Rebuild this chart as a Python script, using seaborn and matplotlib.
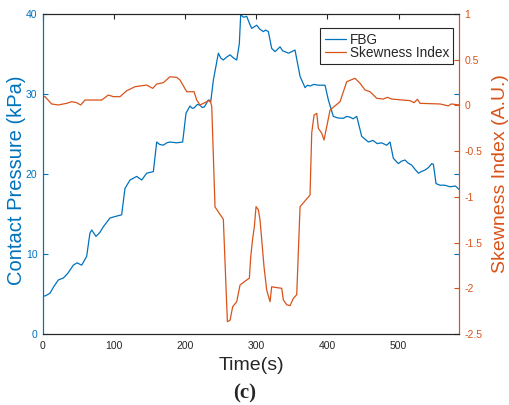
import pandas as pd
import seaborn as sns
import matplotlib.pyplot as plt

# FBG contact pressure (kPa) vs time (s)
t_fbg = [0, 4, 9.8, 15, 21.5, 28.6, 35, 42.6, 48, 54.4, 61.4, 66, 68.5, 74.5, 80, 84.8,
         94.2, 102, 110.6, 115.3, 122.4, 131.8, 138.8, 145.8, 155.2, 159.9, 164, 169.2,
         174, 178.6, 188, 196.4, 201.1, 206.7, 210, 213, 217, 220.8, 224, 227, 232.5,
         235.8, 239.6, 246.6, 250, 253.6, 258, 263, 268, 272.4, 276.1, 278, 282, 286.5,
         290, 293.5, 297, 300.5, 305, 309.9, 313, 316.9, 321.6, 326.3, 330, 333.3, 337,
         340, 345, 350, 354.4, 361.5, 368.5, 372, 375.5, 381, 387.2, 392, 396.6, 401.3,
         408.3, 415, 422.4, 427, 432, 436, 441.2, 448.2, 457.6, 464, 470, 476, 483.4,
         488, 492.7, 499.7, 504, 509.1, 513, 518.6, 523, 527.9, 532, 537.3, 542, 546.7,
         549, 552.7, 558.4, 565, 572.4, 580, 586]
p_fbg = [4.7, 4.8, 5.1, 5.9, 6.75, 7.0, 7.6, 8.6, 8.9, 8.6, 9.7, 12.6, 13.0, 12.2, 12.7, 13.4,
         14.5, 14.7, 14.9, 18.2, 19.25, 19.7, 19.25, 20.1, 20.3, 24.0, 23.7, 23.6,
         23.9, 24.0, 23.9, 24.0, 27.6, 28.5, 28.2, 28.3, 28.7, 28.6, 28.3, 28.4, 29.25,
         29.0, 31.75, 35.1, 34.5, 34.25, 34.6, 34.9, 34.5, 34.25, 36.3, 39.9, 39.6, 39.7,
         38.9, 38.2, 38.4, 38.6, 38.1, 37.8, 38.0, 37.8, 35.7, 35.3, 35.6, 35.9, 35.4,
         35.3, 35.1, 35.3, 35.5, 32.2, 30.8, 31.1, 31.0, 31.2, 31.1, 31.1, 31.1, 29.25,
         27.2, 27.0, 26.96, 27.2, 27.1, 26.9, 27.2, 24.7, 24.0, 24.2, 23.8, 23.9, 23.6,
         24.0, 21.96, 21.3, 21.6, 21.75, 21.4, 21.1, 20.6, 20.1, 20.3, 20.5, 20.8, 21.3,
         21.2, 18.8, 18.6, 18.6, 18.4, 18.5, 18.0]

# Skewness index (A.U.) vs time (s)
t_skew = [0, 2.8, 12.2, 21.5, 33.3, 40.4, 47.4, 53, 59, 82.5, 91.9, 98.9, 108.3, 117.7,
          129.4, 145.8, 154.3, 159.9, 169.2, 178.6, 188, 192.7, 202.1, 212.4, 216.2,
          220.8, 230.2, 234.9, 237.3, 241.9, 253.6, 259.3, 263, 266.8, 272.4, 277.1,
          286.5, 290.2, 292.1, 294.9, 297.2, 299.6, 302.8, 305.2, 307.6, 310.8, 314.6,
          319.3, 321.6, 326.3, 335.7, 338, 342.8, 347.4, 352.1, 356.8, 361.5, 375.5,
          377.9, 381.2, 385, 387.2, 392, 395.2, 399, 403.7, 417.7, 427.1, 438.8, 445.8,
          452.9, 459.9, 469.3, 478.6, 484.2, 490.4, 516.2, 521.8, 526.5, 530.2, 558.4,
          570, 574, 586]
s_skew = [0.1, 0.096, 0.016, 0.005, 0.023, 0.041, 0.03, 0.005, 0.059, 0.059, 0.114, 0.096,
          0.096, 0.161, 0.205, 0.223, 0.187, 0.234, 0.249, 0.314, 0.307, 0.278, 0.15,
          0.15, 0.059, 0.005, 0.04, 0.06, -0.01, -1.11, -1.245, -2.365, -2.35, -2.2,
          -2.147, -1.964, -1.909, -1.89, -1.655, -1.453, -1.326, -1.107, -1.14, -1.253,
          -1.47, -1.764, -2.02, -2.147, -1.983, -1.99, -2.0, -2.128, -2.18, -2.19,
          -2.11, -2.07, -1.107, -0.98, -0.30, -0.105, -0.086, -0.25, -0.305, -0.378,
          -0.232, -0.05, 0.041, 0.26, 0.297, 0.242, 0.169, 0.15, 0.078, 0.07, 0.089,
          0.07, 0.052, 0.03, 0.067, 0.023, 0.016, -0.005, 0.016, 0.005]

right_ticks = [-2.5, -2, -1.5, -1, -0.5, 0, 0.5, 1]
right_labels = ['-2.5', '-2', '-1.5', '-1', '-0.5', '0', '0.5', '1']

blue = '#0072BD'
orange = '#D95319'

sns.set_style("white")
plt.rcParams['font.family'] = ['Liberation Sans', 'DejaVu Sans']

df_fbg = pd.DataFrame({'t': t_fbg, 'p': p_fbg})
df_skew = pd.DataFrame({'t': t_skew, 's': s_skew})

fig = plt.figure(figsize=(5.1, 4.05), dpi=100)
ax1 = fig.add_axes([0.0843, 0.1753, 0.8157, 0.7901])
ax2 = ax1.twinx()

sns.lineplot(data=df_fbg, x='t', y='p', ax=ax1, color=blue, linewidth=0.9,
             sort=False, estimator=None, label='FBG', legend=False)
sns.lineplot(data=df_skew, x='t', y='s', ax=ax2, color=orange, linewidth=0.9,
             sort=False, estimator=None, label='Skewness Index', legend=False)

ax1.set_xlim(0, 585)
ax1.set_ylim(0, 40)
ax2.set_ylim(-2.5, 1)
ax1.set_xticks([0, 100, 200, 300, 400, 500])
ax1.set_yticks([0, 10, 20, 30, 40])
ax2.set_yticks(right_ticks)
ax2.set_yticklabels(right_labels)

ax1.set_xlabel('Time(s)', fontsize=14, color='#262626')
ax1.set_ylabel('Contact Pressure (kPa)', fontsize=14.5, color=blue)
ax2.set_ylabel('Skewness Index (A.U.)', fontsize=14, color=orange)
ax1.xaxis.set_label_coords(0.502, -0.072)
ax1.yaxis.set_label_coords(-0.041, 0.48)
ax2.yaxis.set_label_coords(1.079, 0.5)

ax1.tick_params(axis='x', direction='in', length=3.5, labelsize=7.5,
                colors='#262626', top=True, pad=5)
ax1.tick_params(axis='y', direction='in', length=3.5, labelsize=7.5,
                colors=blue, right=True, pad=4)
ax2.tick_params(axis='y', direction='in', length=3.5, labelsize=7.5,
                colors=orange, pad=4)

for ax in (ax1, ax2):
    for sp in ax.spines.values():
        sp.set_linewidth(0.8)
    ax.spines['top'].set_color('#262626')
    ax.spines['bottom'].set_color('#262626')
    ax.spines['left'].set_color(blue)
    ax.spines['right'].set_color(orange)

handles = ax1.get_lines() + ax2.get_lines()
leg = ax2.legend(handles, [h.get_label() for h in handles], loc='upper right',
                 bbox_to_anchor=(0.986, 0.955), borderaxespad=0, fontsize=9.8,
                 frameon=True, fancybox=False, framealpha=1, edgecolor='#262626',
                 handlelength=1.6, handletextpad=0.25, borderpad=0.3,
                 labelspacing=-0.05, title=' ', title_fontsize=1.5)
leg.get_frame().set_linewidth(0.8)

fig.text(0.48, 0.028, '(c)', ha='center', va='center', fontsize=15,
         fontweight='bold', family='Liberation Serif')

plt.savefig('out.png', dpi=100)
